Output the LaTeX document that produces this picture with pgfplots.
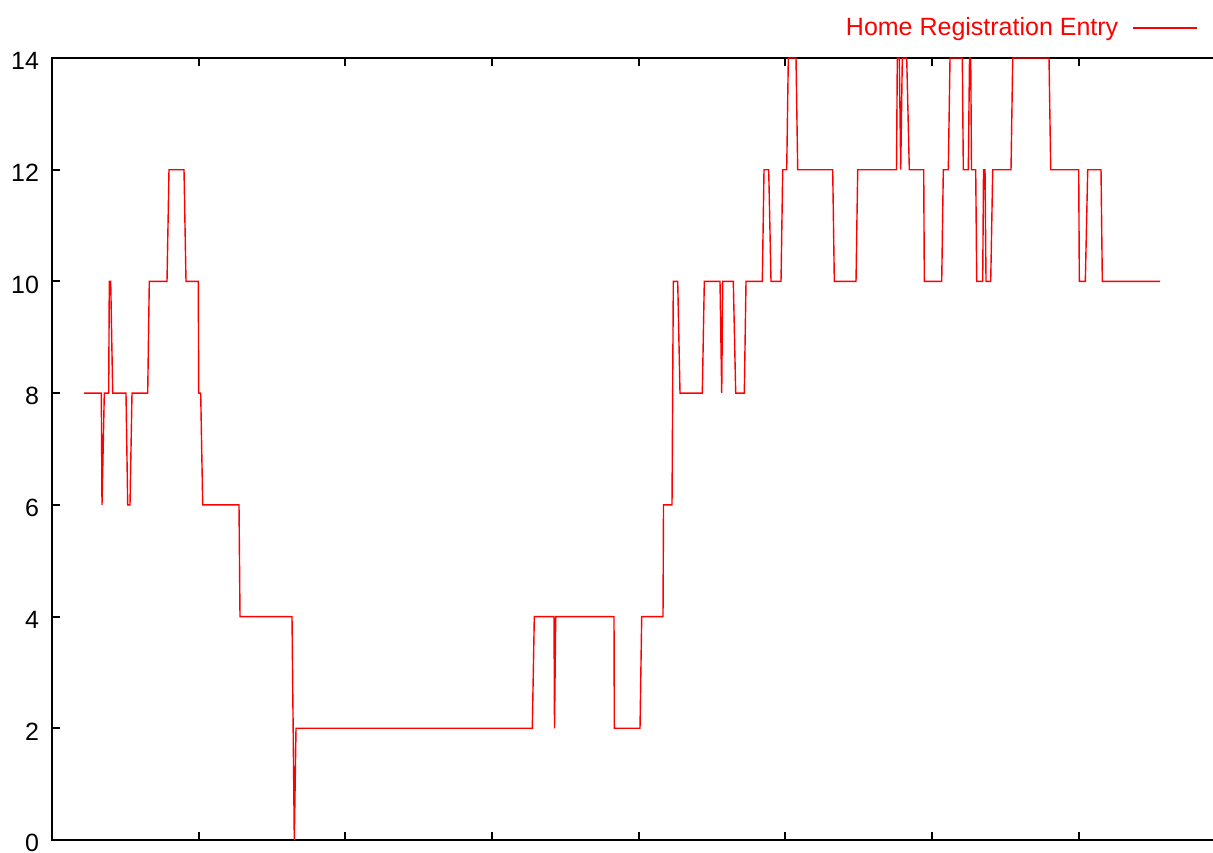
\documentclass[border=0pt]{standalone}
\usepackage{pgfplots}
\pgfplotsset{compat=1.18}
\usepackage{fontspec}
\setmainfont{Liberation Sans}
\begin{document}
\begin{tikzpicture}
\useasboundingbox (-26pt,-6pt) rectangle (580.5pt,420pt);
\clip (-26pt,-6pt) rectangle (580.5pt,420pt);
\begin{axis}[
  at={(0pt,0pt)}, anchor=south west,
  scale only axis, width=586.6pt, height=391pt,
  xmin=0, xmax=1173.2, ymin=0, ymax=14,
  xtick={146.65,293.3,439.95,586.6,733.25,879.9,1026.55},
  xticklabels={},
  ytick={0,2,4,6,8,10,12,14},
  tick align=inside, major tick length=4pt,
  tick style={line width=1pt, black},
  axis line style={line width=1.2pt, black},
  /pgf/number format/assume math mode=true,
  ticklabel style={font=\fontsize{12.5}{14}\selectfont},
  yticklabel style={xshift=-3pt, yshift=-1.5pt},
  legend style={draw=none, fill=none, at={(axis description cs:0.982,1.0384)}, anchor=east,
    font=\fontsize{12.5}{14}\selectfont, text=red},
  legend plot pos=right,
  legend image code/.code={\path (-5pt,0pt); \draw[#1] (0pt,0pt) -- (32pt,0pt);},
]
\addplot[red, line width=0.7pt, line join=miter] coordinates {
(32,8) (49.3,8) (50,6) (52.3,8) (56.7,8) (57.3,10) (58.7,10) (60.7,8) (74,8) (75.7,6) (78,6) (80,8)
(95.7,8) (97.3,10) (115,10) (117,12) (132,12) (134,10) (146.3,10) (146.7,8) (148.7,8) (150.7,6)
(187,6) (188,4) (240,4) (242.3,0) (244,2) (480.3,2) (482.3,4) (502,4) (502.5,2) (503.7,4)
(562,4) (562.3,2) (588,2) (589.7,4) (611,4) (611.5,6) (620,6) (621.3,10) (625.7,10) (628,8)
(650.3,8) (652.3,10) (668,10) (669.7,8) (670.7,10) (681.3,10) (683.7,8) (692.3,8) (694,10)
(710.3,10) (712,12) (716.7,12) (719,10) (729,10) (730.7,12) (734.7,12) (736.3,14) (744,14)
(745.7,12) (780.7,12) (782.3,10) (804,10) (805.7,12) (844.5,12) (845.3,14) (847.3,14) (848.7,12)
(850.3,14) (854.7,14) (857.3,12) (871.7,12) (872.3,10) (889.7,10) (891.3,12) (896.3,12) (898,14)
(910.3,14) (911.3,12) (916.3,12) (917.5,14) (918.7,14) (919.5,12) (923.7,12) (924.7,10) (930.7,10)
(931.5,12) (933,12) (934,10) (938.7,10) (940.7,12) (959,12) (960.7,14) (997,14) (998.7,12)
(1026.7,12) (1027.3,10) (1033.3,10) (1035.7,12) (1049,12) (1050.3,10) (1108,10)
};
\addlegendentry{Home Registration Entry}
\end{axis}
\end{tikzpicture}
\end{document}
